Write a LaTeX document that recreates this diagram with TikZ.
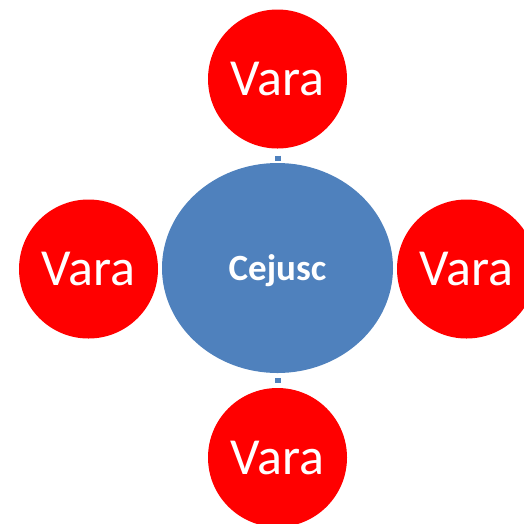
\documentclass[tikz,border=0pt]{standalone}
\usepackage{fontspec}
\setmainfont{Carlito}
\usetikzlibrary{shapes.geometric}
\definecolor{varared}{HTML}{FF0000}
\definecolor{cejblue}{HTML}{4F81BD}
\tikzset{
  vara/.style={circle, fill=varared, draw=none, minimum size=139pt, inner sep=0pt,
    text=white, font=\fontsize{52}{62}\selectfont},
  cejusc/.style={ellipse, fill=cejblue, draw=none, minimum width=231pt, minimum height=210pt,
    inner sep=0pt, text=white, text depth=0pt, font=\fontsize{37}{44}\selectfont\bfseries},
  stub/.style={draw=cejblue, line width=6pt}
}
\begin{document}
\begin{tikzpicture}[x=1pt,y=-1pt]
\useasboundingbox (0,0) rectangle (524,523);
\node[cejusc] (c) at (277.5,268) {Cejusc};
\node[vara] (t) at (277.5,79) {Vara};
\node[vara] (b) at (277.5,457.5) {Vara};
\node[vara] (l) at (88.5,269) {Vara};
\node[vara] (r) at (466.5,269) {Vara};
\draw[stub, shorten <=7pt, shorten >=2pt] (t) -- (c);
\draw[stub, shorten <=5pt, shorten >=5pt] (b) -- (c);
\end{tikzpicture}
\end{document}
